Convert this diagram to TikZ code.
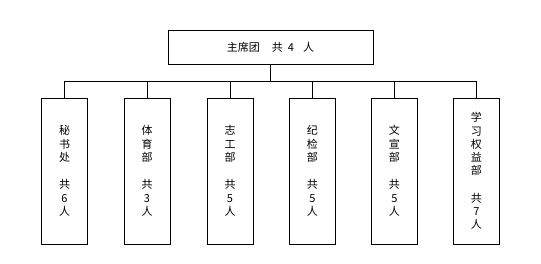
\documentclass[tikz,border=0pt]{standalone}
\usepackage{fontspec}
\setmainfont{Noto Sans CJK SC}
\begin{document}
\begin{tikzpicture}[x=1pt,y=-1pt,
  line width=0.9pt,
  topbox/.style={draw,minimum width=205pt,minimum height=34pt,inner sep=0pt,font=\fontsize{11}{13}\selectfont},
  dept/.style={draw,minimum width=46pt,minimum height=146pt,inner sep=0pt,align=center,font=\fontsize{11}{13.3}\selectfont}]
\useasboundingbox (0,0) rectangle (541,264);
\node[topbox] (top) at (270.5,47) {主席团\hspace{12pt}共\hspace{5pt}4\hspace{9pt}人};
\node[dept] (b1) at (64.5,171) {秘\\书\\处\\[14pt]共\\6\\人};
\node[dept] (b2) at (147,171) {体\\育\\部\\[14pt]共\\3\\人};
\node[dept] (b3) at (230,171) {志\\工\\部\\[14pt]共\\5\\人};
\node[dept] (b4) at (312.3,171) {纪\\检\\部\\[14pt]共\\5\\人};
\node[dept] (b5) at (394.3,171) {文\\宣\\部\\[14pt]共\\5\\人};
\node[dept] (b6) at (476.3,171) {学\\习\\权\\益\\部\\[14pt]共\\7\\人};
\draw (top.south) -- ++(0,17.5) coordinate (j);
\draw (b1.north) -- (b1.north |- j) -- (b6.north |- j) -- (b6.north);
\foreach \b in {b2,b3,b4,b5} \draw (\b.north) -- (\b.north |- j);
\end{tikzpicture}
\end{document}
